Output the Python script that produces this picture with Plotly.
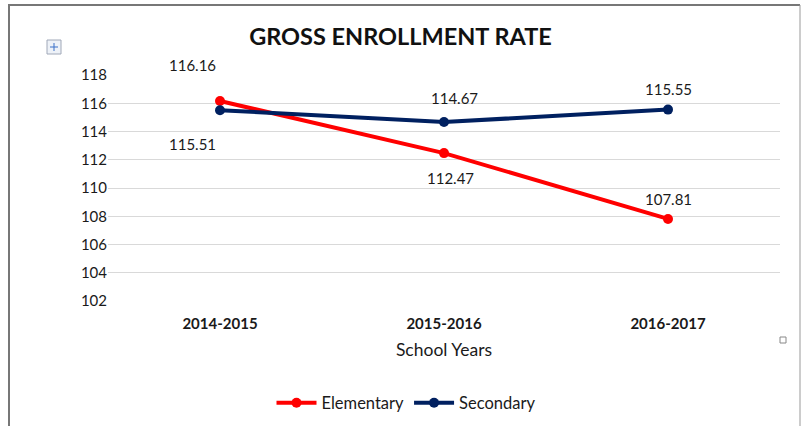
import plotly.graph_objects as go

# data
school_years = ["2014-2015", "2015-2016", "2016-2017"]
elementary = [116.16, 112.47, 107.81]
secondary = [115.51, 114.67, 115.55]
y_ticks = [102, 104, 106, 108, 110, 112, 114, 116, 118]

# label offsets in pixels (x, y) for each point
elem_shift = [(-28, 36), (6, -25), (0, 20)]
sec_shift = [(-28, -34), (10, 24), (0, 21)]

RED = "#FF0000"
NAVY = "#002060"
FONT = "Lato"

fig = go.Figure()
fig.add_trace(go.Scatter(
    x=school_years, y=elementary, name="Elementary",
    mode="lines+markers",
    line=dict(color=RED, width=4),
    marker=dict(color=RED, size=10),
))
fig.add_trace(go.Scatter(
    x=school_years, y=secondary, name="Secondary",
    mode="lines+markers",
    line=dict(color=NAVY, width=4),
    marker=dict(color=NAVY, size=10),
))

# data labels
annotations = []
for vals, shifts in ((elementary, elem_shift), (secondary, sec_shift)):
    for xv, yv, (dx, dy) in zip(school_years, vals, shifts):
        annotations.append(dict(
            x=xv, y=yv, text=f"{yv:.2f}", showarrow=False,
            xshift=dx, yshift=dy,
            font=dict(family=FONT, size=15, color="#1a1a1a"),
        ))

# paper coords: plot area spans x 108..780, y 75..301 px
def px(x):
    return (x - 108) / 672


def py(y):
    return (301 - y) / 226


shapes = [
    # outer frame (top, left, right)
    dict(type="line", xref="paper", yref="paper", x0=px(8), x1=px(800), y0=py(5), y1=py(5),
         line=dict(color="#777777", width=2)),
    dict(type="line", xref="paper", yref="paper", x0=px(9), x1=px(9), y0=py(5), y1=py(430),
         line=dict(color="#777777", width=2)),
    dict(type="line", xref="paper", yref="paper", x0=px(800), x1=px(800), y0=py(5), y1=py(430),
         line=dict(color="#999999", width=1)),
    # move handle
    dict(type="rect", xref="paper", yref="paper", x0=px(47), x1=px(61), y0=py(54), y1=py(40),
         line=dict(color="#a0a8b8", width=1), fillcolor="#eef2f8"),
    dict(type="line", xref="paper", yref="paper", x0=px(50), x1=px(58), y0=py(47), y1=py(47),
         line=dict(color="#3a70c8", width=1)),
    dict(type="line", xref="paper", yref="paper", x0=px(54), x1=px(54), y0=py(43), y1=py(51),
         line=dict(color="#3a70c8", width=1)),
    # resize handle
    dict(type="rect", xref="paper", yref="paper", x0=px(780), x1=px(786), y0=py(343), y1=py(337),
         line=dict(color="#888888", width=1), fillcolor="white"),
]

fig.update_layout(
    width=801, height=426,
    margin=dict(l=108, r=21, t=75, b=125, autoexpand=False),
    paper_bgcolor="white", plot_bgcolor="white",
    font=dict(family=FONT, size=14, color="#1a1a1a"),
    title=dict(text="<b>GROSS ENROLLMENT RATE</b>", x=0.5, xanchor="center",
               y=1 - 37 / 426, yanchor="middle",
               font=dict(family=FONT, size=23.5, color="#111111")),
    xaxis=dict(
        title=dict(text="School Years", font=dict(size=17.5), standoff=12),
        showgrid=False, showline=False, ticks="",
        tickfont=dict(size=15, weight="bold"),
        ticklabelstandoff=12,
        range=[-0.5, 2.5],
    ),
    yaxis=dict(
        range=[102, 118], tickvals=y_ticks,
        showgrid=True, gridcolor="#d9d9d9", gridwidth=1,
        zeroline=False, showline=False, ticks="",
        tickfont=dict(size=15),
    ),
    legend=dict(orientation="h", x=px(406), xanchor="center", y=py(403), yanchor="middle",
                font=dict(size=16.5), itemwidth=40),
    annotations=annotations,
    shapes=shapes,
)

fig.write_html("out.html", config={"displayModeBar": False},
               post_script="document.body.style.margin='0';")
